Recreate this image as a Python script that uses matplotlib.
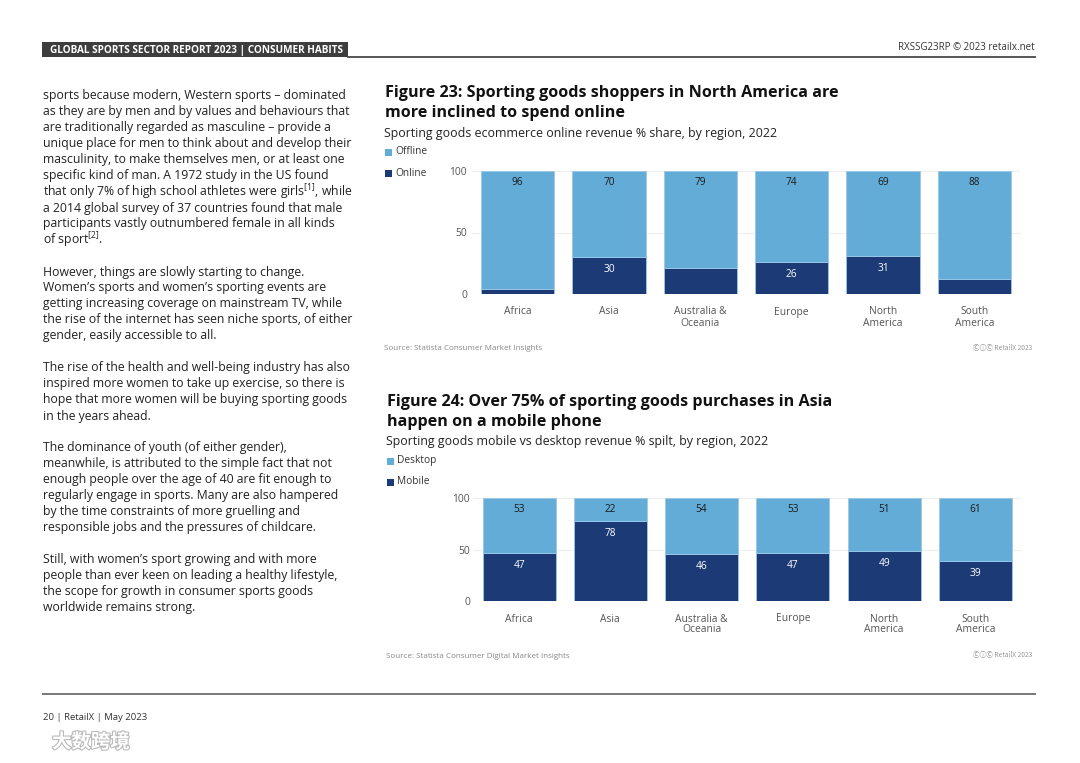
import matplotlib
matplotlib.use("Agg")
import matplotlib.pyplot as plt
from matplotlib.patches import Rectangle
import matplotlib.patheffects as pe
import numpy as np

plt.rcParams['font.family'] = ['Open Sans', 'DejaVu Sans']
plt.rcParams['mathtext.fontset'] = 'custom'
plt.rcParams['mathtext.rm'] = 'Open Sans'

# ------------------------------------------------------------------
#  Datos
# ------------------------------------------------------------------
regions = ["Africa", "Asia", "Australia &\nOceania", "Europe", "North\nAmerica", "South\nAmerica"]

online = [4, 30, 21, 26, 31, 12]
offline = [96, 70, 79, 74, 69, 88]

mobile = [47, 78, 46, 47, 49, 39]
desktop = [53, 22, 54, 53, 51, 61]

body_lines = [
    "sports because modern, Western sports – dominated",
    "as they are by men and by values and behaviours that",
    "are traditionally regarded as masculine – provide a",
    "unique place for men to think about and develop their",
    "masculinity, to make themselves men, or at least one",
    "specific kind of man. A 1972 study in the US found",
    r"that only 7% of high school athletes were girls$^{\mathregular{[1]}}$, while",
    "a 2014 global survey of 37 countries found that male",
    "participants vastly outnumbered female in all kinds",
    r"of sport$^{\mathregular{[2]}}$.",
    "",
    "However, things are slowly starting to change.",
    "Women’s sports and women’s sporting events are",
    "getting increasing coverage on mainstream TV, while",
    "the rise of the internet has seen niche sports, of either",
    "gender, easily accessible to all.",
    "",
    "The rise of the health and well-being industry has also",
    "inspired more women to take up exercise, so there is",
    "hope that more women will be buying sporting goods",
    "in the years ahead.",
    "",
    "The dominance of youth (of either gender),",
    "meanwhile, is attributed to the simple fact that not",
    "enough people over the age of 40 are fit enough to",
    "regularly engage in sports. Many are also hampered",
    "by the time constraints of more gruelling and",
    "responsible jobs and the pressures of childcare.",
    "",
    "Still, with women’s sport growing and with more",
    "people than ever keen on leading a healthy lifestyle,",
    "the scope for growth in consumer sports goods",
    "worldwide remains strong.",
]

# ------------------------------------------------------------------
#  Estilo
# ------------------------------------------------------------------
W, H = 1080, 763
LIGHT = '#62acd7'
DARK = '#1c3b76'
TXT = '#222222'
CIRC = ['Noto Sans CJK SC', 'DejaVu Sans']


def px(x, y):
    return x / W, 1 - y / H


fig = plt.figure(figsize=(W / 100, H / 100), dpi=100)
fig.patch.set_facecolor('white')

# cabecera
fig.patches.append(Rectangle(px(42, 57), 306 / W, 15 / H, transform=fig.transFigure,
                             facecolor='#3d3d3d', edgecolor='none'))
fig.text(*px(50, 50), "GLOBAL SPORTS SECTOR REPORT 2023 | CONSUMER HABITS",
         color='white', fontsize=7.2, fontweight='bold', va='center', ha='left')
fig.add_artist(plt.Line2D([348 / W, 1035 / W], [1 - 56.5 / H] * 2, color='#555555', lw=1.4,
                          transform=fig.transFigure))
fig.text(*px(1035, 48), "RXSSG23RP © 2023 retailx.net", color='#333333', fontsize=7.0,
         ha='right', va='center')

# columna de texto
y = 96
for line in body_lines:
    if line:
        fig.text(*px(43, y), line, color=TXT, fontsize=8.8, ha='left', va='center')
    y += 16

# pie
fig.add_artist(plt.Line2D([43 / W, 1035 / W], [1 - 694 / H] * 2, color='#777777', lw=1.4,
                          transform=fig.transFigure))
fig.text(*px(43, 717), "20 | RetailX | May 2023", color='#333333', fontsize=6.8,
         ha='left', va='center')
fig.text(*px(52, 742), "大数跨境", fontsize=14, color='white', ha='left', va='center',
         family=['Noto Sans CJK SC', 'DejaVu Sans'], fontweight='bold',
         path_effects=[pe.withStroke(linewidth=1.6, foreground='#bbbbbb')])


def panel(top, title, subtitle, legend, bottom_vals, top_vals, ax_box, source, lx, ypad):
    t1, t2 = title
    fig.text(*px(lx, top), t1, color='#111111', fontsize=11.6, fontweight='bold',
             ha='left', va='center')
    fig.text(*px(lx, top + 20), t2, color='#111111', fontsize=11.6, fontweight='bold',
             ha='left', va='center')
    fig.text(*px(lx - 1, top + 40), subtitle, color='#222222', fontsize=8.9,
             ha='left', va='center')
    for k, (name, col) in enumerate(legend):
        yy = top + 59 + 21 * k
        fig.patches.append(Rectangle(px(lx, yy + 3.5), 7 / W, 7 / H,
                                     transform=fig.transFigure, facecolor=col,
                                     edgecolor='none'))
        fig.text(*px(lx + 10, yy), name, color='#333333', fontsize=7.3,
                 ha='left', va='center')

    x0, x1, y0, y1 = ax_box
    ax = fig.add_axes([x0 / W, 1 - y1 / H, (x1 - x0) / W, (y1 - y0) / H])
    xs = np.arange(len(regions))
    ax.bar(xs, bottom_vals, width=0.8, color=DARK, edgecolor='#9cc8e6', linewidth=0.6,
           zorder=3)
    ax.bar(xs, top_vals, bottom=bottom_vals, width=0.8, color=LIGHT, edgecolor='#9cc8e6',
           linewidth=0.6, zorder=3)
    for i in range(len(regions)):
        b, t = bottom_vals[i], top_vals[i]
        if b >= 22:
            ax.annotate(f"{b}", (xs[i], b), xytext=(0, -9), textcoords='offset points',
                        ha='center', va='center', color='white', fontsize=7.3, zorder=4)
        if t >= 22:
            ax.annotate(f"{t}", (xs[i], b + t), xytext=(0, -8), textcoords='offset points',
                        ha='center', va='center', color='#1a1a1a', fontsize=7.3, zorder=4)
    ax.set_xlim(-0.5, len(regions) - 0.5)
    ax.set_ylim(0, 100)
    ax.set_yticks([0, 50, 100])
    ax.grid(axis='y', color='#eeeeee', lw=0.8, zorder=0)
    for s in ax.spines.values():
        s.set_visible(False)
    ax.tick_params(axis='both', length=0, labelsize=7.4, labelcolor='#555555')
    ax.tick_params(axis='y', pad=ypad)
    ax.tick_params(axis='x', pad=9)
    ax.set_xticks(xs)
    ax.set_xticklabels(regions, linespacing=1.0)

    src_y = y1 + 55
    fig.text(*px(lx - 1, src_y), source, color='#888888', fontsize=5.8, ha='left', va='center')
    fig.text(*px(1032, src_y - 1), "ⒸⓘⒸ RetailX 2023", color='#999999', fontsize=4.8,
             ha='right', va='center', family=CIRC)
    return ax


panel(93, ("Figure 23: Sporting goods shoppers in North America are",
           "more inclined to spend online"),
      "Sporting goods ecommerce online revenue % share, by region, 2022",
      [("Offline", LIGHT), ("Online", DARK)],
      online, offline, (472, 1020, 171, 294),
      "Source: Statista Consumer Market Insights", 385, 3.5)

panel(402, ("Figure 24: Over 75% of sporting goods purchases in Asia",
            "happen on a mobile phone"),
      "Sporting goods mobile vs desktop revenue % spilt, by region, 2022",
      [("Desktop", LIGHT), ("Mobile", DARK)],
      mobile, desktop, (473.5, 1021, 498, 601),
      "Source: Statista Consumer Digital Market Insights", 387, 2.5)

fig.savefig("out.png", dpi=100)
